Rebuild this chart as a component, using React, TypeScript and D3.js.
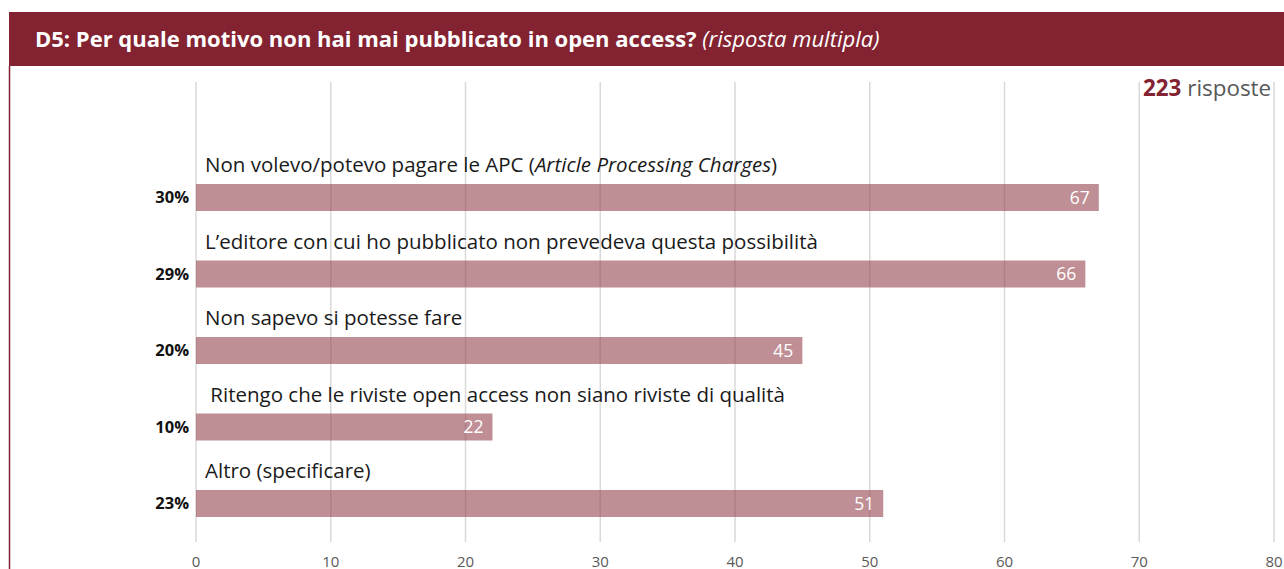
import * as d3 from "d3";

const categories = [
  "Non volevo/potevo pagare le APC (",
  "L’editore con cui ho pubblicato non prevedeva questa possibilità",
  "Non sapevo si potesse fare",
  " Ritengo che le riviste open access non siano riviste di qualità",
  "Altro (specificare)",
];
const categoryItalic = ["Article Processing Charges", "", "", "", ""];
const categoryTail = [")", "", "", "", ""];
const counts = [67, 66, 45, 22, 51];
const percents = ["30%", "29%", "20%", "10%", "23%"];
const xTicks = [0, 10, 20, 30, 40, 50, 60, 70, 80];
const totalAnswers = 223;

const W = 1284;
const H = 569;
const font = "'Open Sans', Lato, sans-serif";

export default function App() {
  // x scale: 0 -> 196px, 80 -> 1274px
  const x = d3.scaleLinear().domain([0, 80]).range([196, 1274]);
  const y = d3
    .scalePoint<string>()
    .domain(categories)
    .range([197.5, 503.5]);
  const barH = 27;

  return (
    <svg
      width={W}
      height={H}
      style={{ position: "absolute", left: 0, top: 0, background: "#fff" }}
      fontFamily={font}
    >
      {/* header band */}
      <rect x={9} y={12} width={W - 9} height={54} fill="#832331" />
      <text x={35} y={47} fill="#fff" fontSize={22}>
        <tspan fontWeight="bold">D5: Per quale motivo non hai mai pubblicato in open access?</tspan>
        <tspan fontStyle="italic"> (risposta multipla)</tspan>
      </text>
      {/* left border */}
      <line x1={9.5} x2={9.5} y1={66} y2={H} stroke="#832331" strokeWidth={1.5} />

      {/* grid */}
      {xTicks.map((t) => (
        <g key={t}>
          <line x1={x(t)} x2={x(t)} y1={82} y2={542} stroke="#d9d9d9" strokeWidth={1.5} />
          <text x={x(t)} y={567} textAnchor="middle" fontSize={15} fill="#595959">
            {t}
          </text>
        </g>
      ))}

      <text x={1143} y={96} fontSize={22.4}>
        <tspan fontWeight="bold" fill="#832331">{totalAnswers}</tspan>
        <tspan fill="#595959"> risposte</tspan>
      </text>

      {categories.map((c, i) => {
        const cy = y(c) as number;
        return (
          <g key={c}>
            <rect
              x={x(0)}
              y={cy - barH / 2}
              width={x(counts[i]) - x(0)}
              height={barH}
              fill="#94444e"
              fillOpacity={0.6}
            />
            <text x={205} y={cy - 25.5} fontSize={20.5} fill="#1a1a1a" style={{ whiteSpace: "pre" }}>
              {c}
              {categoryItalic[i] && <tspan fontStyle="italic">{categoryItalic[i]}</tspan>}
              {categoryTail[i]}
            </text>
            <text
              x={x(counts[i]) - 9}
              y={cy}
              dy="0.35em"
              textAnchor="end"
              fontSize={17.5}
              fill="#fff"
            >
              {counts[i]}
            </text>
            <text x={189} y={cy} dy="0.35em" textAnchor="end" fontSize={16.5} fontWeight="bold" fill="#111">
              {percents[i]}
            </text>
          </g>
        );
      })}
    </svg>
  );
}
